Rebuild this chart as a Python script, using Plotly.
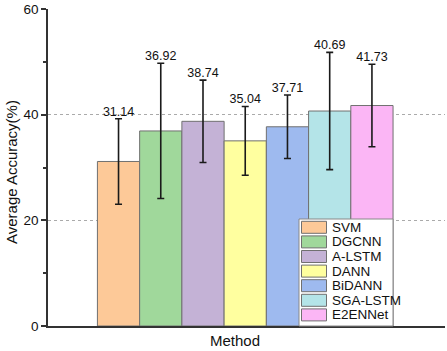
import plotly.graph_objects as go

methods = ["SVM", "DGCNN", "A-LSTM", "DANN", "BiDANN", "SGA-LSTM", "E2ENNet"]
accuracy = [31.14, 36.92, 38.74, 35.04, 37.71, 40.69, 41.73]
std_dev = [8.1, 12.8, 7.8, 6.5, 6.0, 11.1, 7.8]
colors = ["#FDC998", "#A0D89B", "#C4B2D6", "#FFFF9F", "#9EBAEF", "#B4E4E8", "#FBB6F5"]
y_ticks = [0, 20, 40, 60]

W, H = 447, 351
ML, MR, MT, MB = 48, 2, 9, 25
PW, PH = W - ML - MR, H - MT - MB


def px_x(p):
    return (p - ML) / PW


def px_y(p):
    return (H - MB - p) / PH


fig = go.Figure()
for i, (m, a, s, c) in enumerate(zip(methods, accuracy, std_dev, colors)):
    fig.add_trace(go.Bar(
        x=[i], y=[a], name=m, width=1, showlegend=False,
        marker=dict(color=c, line=dict(color="#707070", width=1)),
        error_y=dict(type="data", array=[s], color="#1a1a1a", thickness=1.6, width=3.5),
    ))

fig.add_trace(go.Scatter(
    x=list(range(len(methods))),
    y=[a + s for a, s in zip(accuracy, std_dev)],
    text=[f"{a:.2f}" for a in accuracy],
    mode="text", textposition="top center",
    textfont=dict(family="Arial, Liberation Sans", size=12.5, color="#111"),
    showlegend=False, hoverinfo="skip",
))

# manual legend (box at lower right of plot area)
shapes = []
annotations = []
box_l, box_r, box_t, box_b = 299, 393, 219, 326
shapes.append(dict(type="rect", xref="paper", yref="paper",
                   x0=px_x(box_l), x1=px_x(box_r), y0=px_y(box_b), y1=px_y(box_t),
                   fillcolor="white", line=dict(color="#888", width=1), layer="above"))
first_c, step = 227.3, 14.6
for k, (m, c) in enumerate(zip(methods, colors)):
    cy = first_c + k * step
    shapes.append(dict(type="rect", xref="paper", yref="paper",
                       x0=px_x(301.5), x1=px_x(326.5), y0=px_y(cy + 6), y1=px_y(cy - 6),
                       fillcolor=c, line=dict(color="#707070", width=1), layer="above"))
    annotations.append(dict(text=m, xref="paper", yref="paper", x=px_x(329.5), y=px_y(cy),
                            xanchor="left", yanchor="middle", showarrow=False,
                            font=dict(family="Arial, Liberation Sans", size=13.5, color="#111")))

annotations.append(dict(text="Method", xref="paper", yref="paper", x=px_x(235), y=px_y(340),
                        xanchor="center", yanchor="middle", showarrow=False,
                        font=dict(family="Arial, Liberation Sans", size=15, color="#111")))
annotations.append(dict(text="Average Accuracy(%)", xref="paper", yref="paper", x=px_x(11),
                        y=px_y(172), xanchor="center", yanchor="middle", showarrow=False,
                        textangle=-90,
                        font=dict(family="Arial, Liberation Sans", size=15, color="#111")))

fig.update_layout(
    width=W, height=H,
    margin=dict(l=ML, r=MR, t=MT, b=MB),
    paper_bgcolor="white", plot_bgcolor="white",
    font=dict(family="Arial, Liberation Sans", size=13, color="#111"),
    barmode="overlay",
    showlegend=False,
    shapes=shapes,
    annotations=annotations,
    xaxis=dict(
        range=[-1.67, 7.73], showticklabels=False, ticks="",
        showline=True, linecolor="#333", linewidth=1.5,
        showgrid=False, zeroline=False, automargin=False,
    ),
    yaxis=dict(
        range=[0, 60], tickvals=y_ticks, ticks="outside", ticklen=5,
        tickcolor="#333", tickwidth=1.5,
        minor=dict(ticks="outside", ticklen=3, dtick=10, tickcolor="#333", showgrid=False),
        showline=True, linecolor="#333", linewidth=1.5,
        showgrid=True, gridcolor="#aaa", griddash="dot", gridwidth=1,
        zeroline=False, automargin=False,
        tickfont=dict(size=13.5),
    ),
)

fig.write_html("out.html", config={"displayModeBar": False},
               post_script="document.body.style.margin='0';document.body.style.padding='0';")
